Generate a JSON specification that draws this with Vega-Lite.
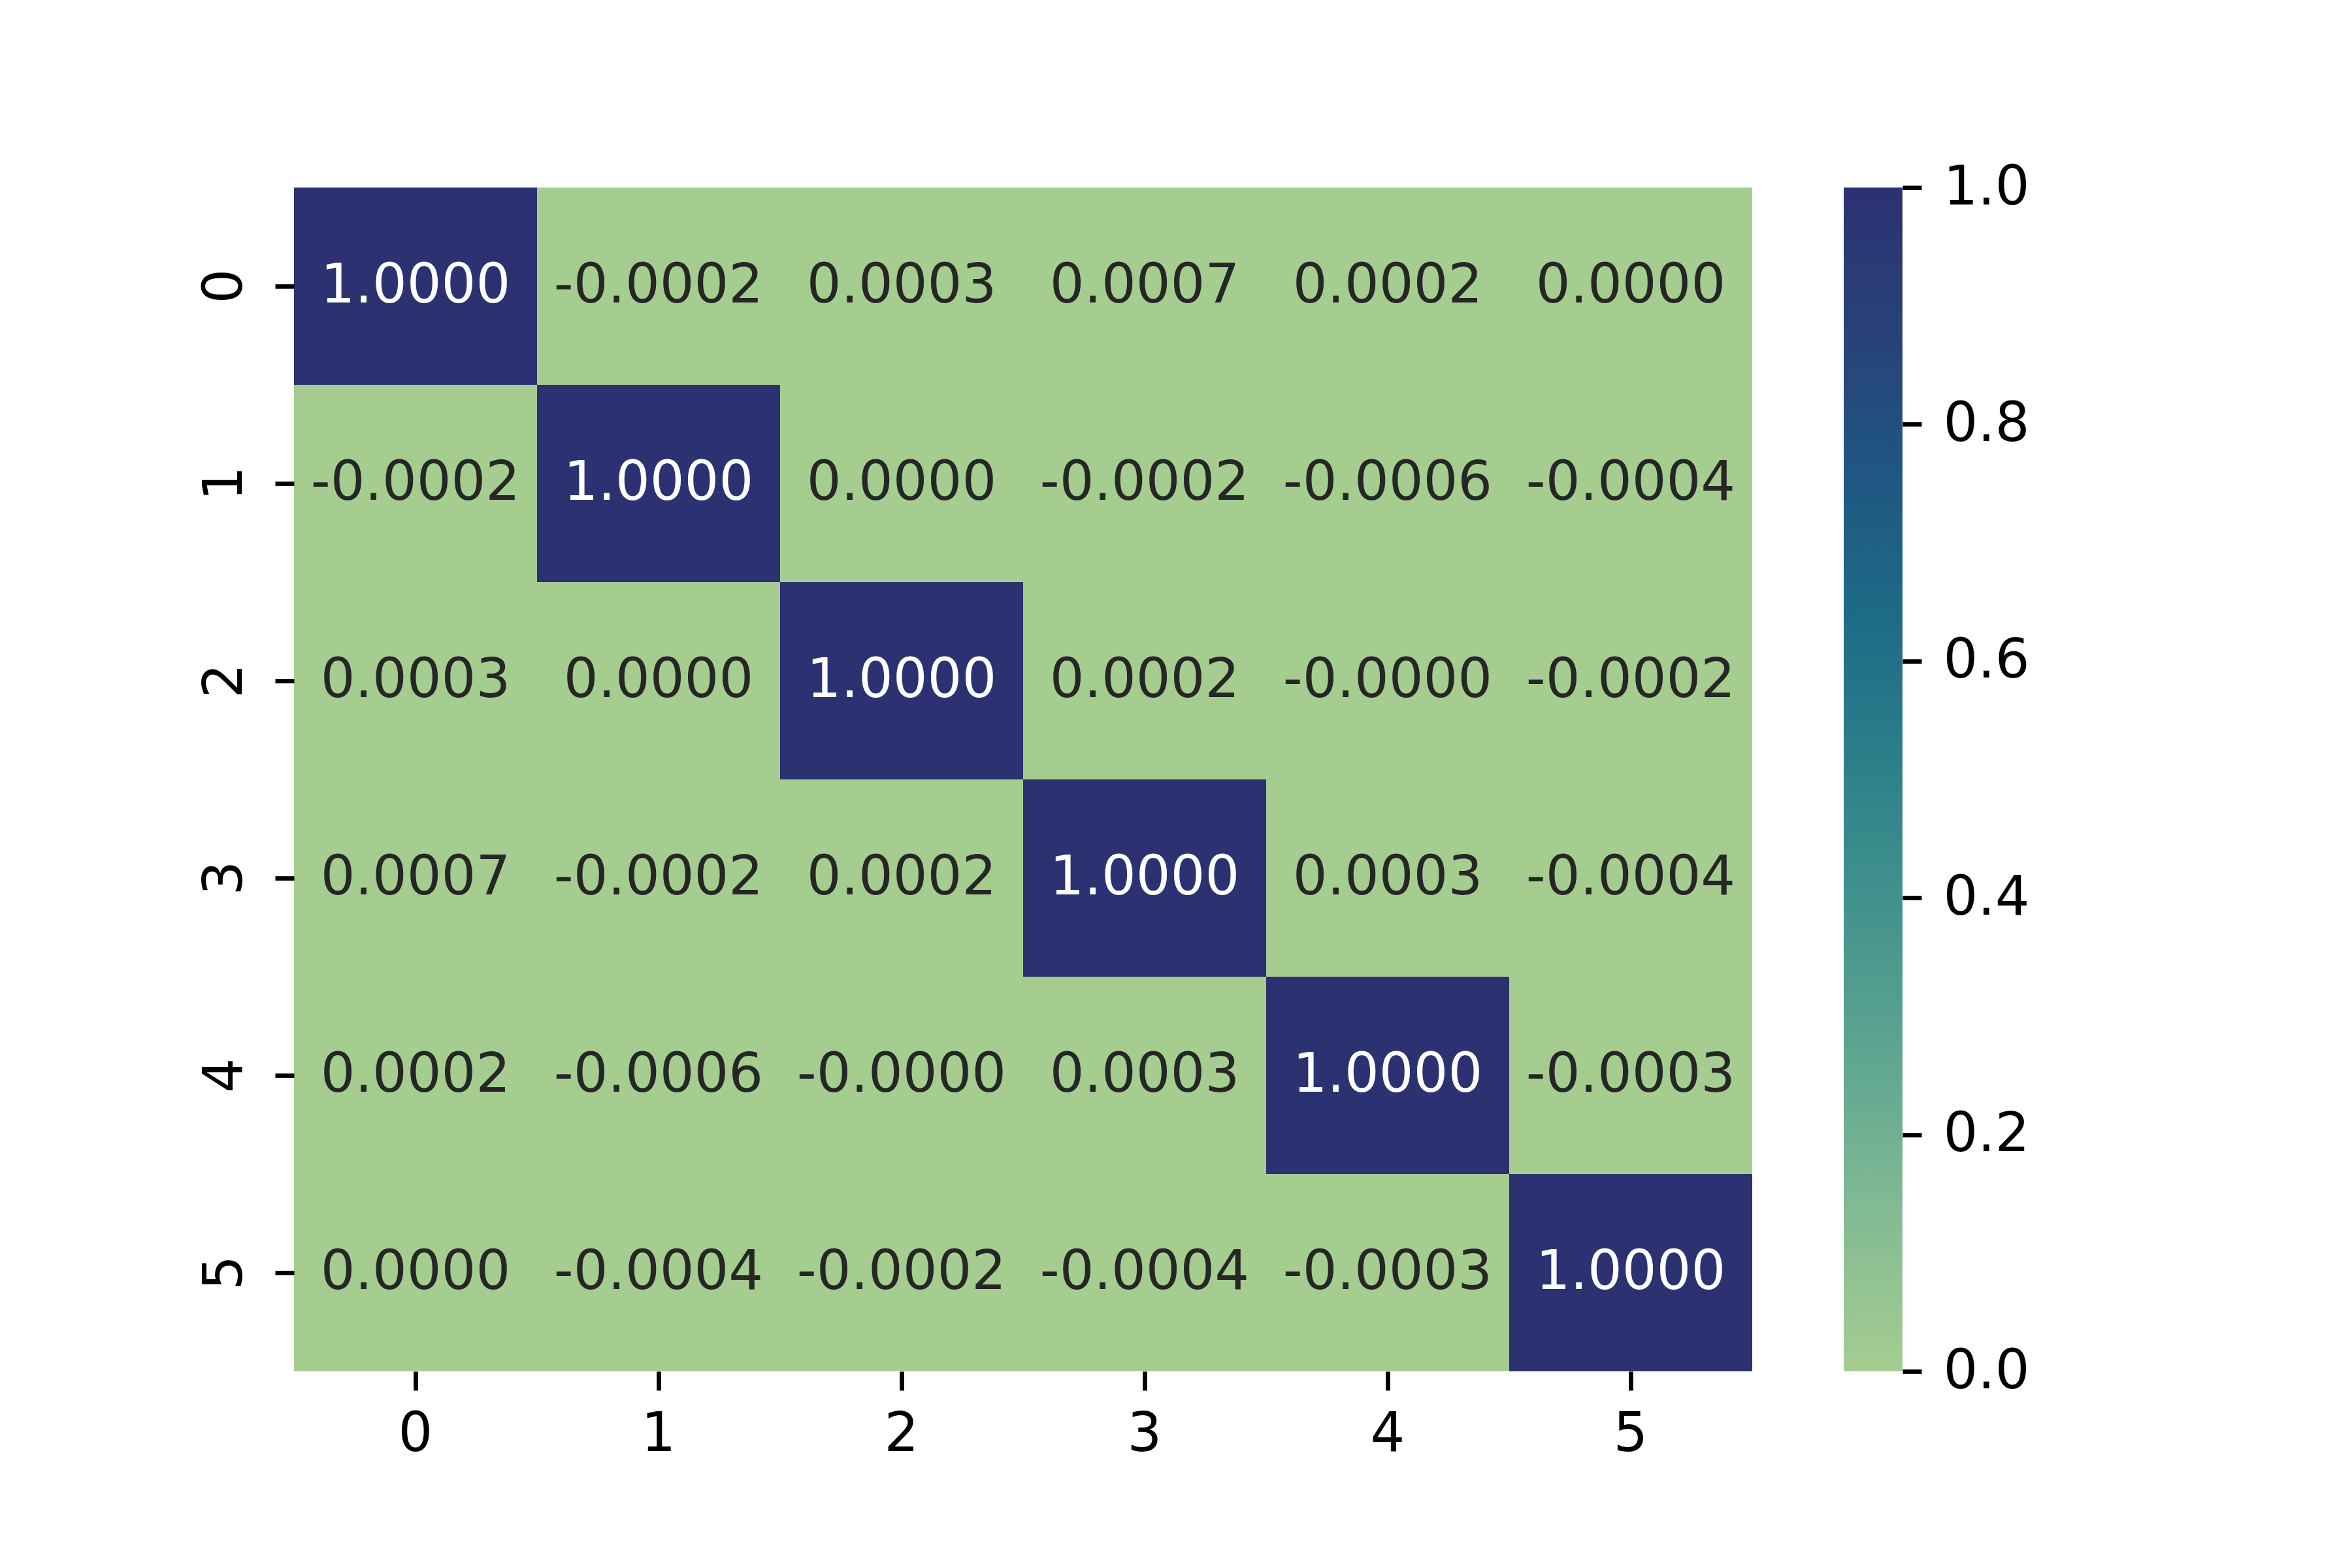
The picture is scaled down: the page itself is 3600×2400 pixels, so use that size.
{
  "$schema": "https://vega.github.io/schema/vega-lite/v6.json",
  "background": "white",
  "padding": {"left": 303, "top": 246, "right": 100, "bottom": 120},
  "spacing": 140,
  "config": {
    "view": {"stroke": null},
    "font": "DejaVu Sans",
    "axis": {
      "labelFont": "DejaVu Sans",
      "labelFontSize": 83,
      "labelColor": "#000000",
      "tickColor": "#000000",
      "tickSize": 29,
      "tickWidth": 6.7,
      "domain": false,
      "grid": false,
      "title": null
    }
  },
  "datasets": {
    "cells": [
      {"row": 0, "col": 0, "v": 1.0, "t": "1.0000"},
      {"row": 0, "col": 1, "v": -0.0002, "t": "-0.0002"},
      {"row": 0, "col": 2, "v": 0.0003, "t": "0.0003"},
      {"row": 0, "col": 3, "v": 0.0007, "t": "0.0007"},
      {"row": 0, "col": 4, "v": 0.0002, "t": "0.0002"},
      {"row": 0, "col": 5, "v": 0.0, "t": "0.0000"},
      {"row": 1, "col": 0, "v": -0.0002, "t": "-0.0002"},
      {"row": 1, "col": 1, "v": 1.0, "t": "1.0000"},
      {"row": 1, "col": 2, "v": 0.0, "t": "0.0000"},
      {"row": 1, "col": 3, "v": -0.0002, "t": "-0.0002"},
      {"row": 1, "col": 4, "v": -0.0006, "t": "-0.0006"},
      {"row": 1, "col": 5, "v": -0.0004, "t": "-0.0004"},
      {"row": 2, "col": 0, "v": 0.0003, "t": "0.0003"},
      {"row": 2, "col": 1, "v": 0.0, "t": "0.0000"},
      {"row": 2, "col": 2, "v": 1.0, "t": "1.0000"},
      {"row": 2, "col": 3, "v": 0.0002, "t": "0.0002"},
      {"row": 2, "col": 4, "v": -0.00001, "t": "-0.0000"},
      {"row": 2, "col": 5, "v": -0.0002, "t": "-0.0002"},
      {"row": 3, "col": 0, "v": 0.0007, "t": "0.0007"},
      {"row": 3, "col": 1, "v": -0.0002, "t": "-0.0002"},
      {"row": 3, "col": 2, "v": 0.0002, "t": "0.0002"},
      {"row": 3, "col": 3, "v": 1.0, "t": "1.0000"},
      {"row": 3, "col": 4, "v": 0.0003, "t": "0.0003"},
      {"row": 3, "col": 5, "v": -0.0004, "t": "-0.0004"},
      {"row": 4, "col": 0, "v": 0.0002, "t": "0.0002"},
      {"row": 4, "col": 1, "v": -0.0006, "t": "-0.0006"},
      {"row": 4, "col": 2, "v": -0.00001, "t": "-0.0000"},
      {"row": 4, "col": 3, "v": 0.0003, "t": "0.0003"},
      {"row": 4, "col": 4, "v": 1.0, "t": "1.0000"},
      {"row": 4, "col": 5, "v": -0.0003, "t": "-0.0003"},
      {"row": 5, "col": 0, "v": 0.0, "t": "0.0000"},
      {"row": 5, "col": 1, "v": -0.0004, "t": "-0.0004"},
      {"row": 5, "col": 2, "v": -0.0002, "t": "-0.0002"},
      {"row": 5, "col": 3, "v": -0.0004, "t": "-0.0004"},
      {"row": 5, "col": 4, "v": -0.0003, "t": "-0.0003"},
      {"row": 5, "col": 5, "v": 1.0, "t": "1.0000"}
    ],
    "bar": [{"lo": 0, "hi": 1}]
  },
  "hconcat": [
    {
      "width": 2232,
      "height": 1812,
      "data": {"name": "cells"},
      "encoding": {
        "x": {
          "field": "col", "type": "ordinal",
          "scale": {"paddingInner": 0, "paddingOuter": 0},
          "axis": {"labelAngle": 0, "labelPadding": 26, "labelBaseline": "top"}
        },
        "y": {
          "field": "row", "type": "ordinal",
          "scale": {"paddingInner": 0, "paddingOuter": 0},
          "axis": {"labelAngle": 270, "labelPadding": 35, "labelAlign": "center", "labelBaseline": "bottom"}
        }
      },
      "layer": [
        {
          "mark": {"type": "rect"},
          "encoding": {
            "color": {
              "field": "v", "type": "quantitative",
              "scale": {
                "domain": [0, 1],
                "clamp": true,
                "range": ["#a5cd90", "#85bc94", "#63a891", "#46958d", "#2e828a", "#1e6d87", "#1f5882", "#284278", "#2c3172"],
                "interpolate": "rgb"
              },
              "legend": null
            }
          }
        },
        {
          "mark": {"type": "text", "font": "DejaVu Sans", "fontSize": 83, "baseline": "middle", "align": "center"},
          "encoding": {
            "text": {"field": "t", "type": "nominal"},
            "color": {
              "condition": {"test": "datum.v > 0.5", "value": "#ffffff"},
              "value": "#262626"
            }
          }
        }
      ]
    },
    {
      "width": 90,
      "height": 1812,
      "data": {"name": "bar"},
      "mark": {
        "type": "rect",
        "color": {
          "gradient": "linear",
          "x1": 0, "y1": 1, "x2": 0, "y2": 0,
          "stops": [
            {"offset": 0, "color": "#a5cd90"},
            {"offset": 0.125, "color": "#85bc94"},
            {"offset": 0.25, "color": "#63a891"},
            {"offset": 0.375, "color": "#46958d"},
            {"offset": 0.5, "color": "#2e828a"},
            {"offset": 0.625, "color": "#1e6d87"},
            {"offset": 0.75, "color": "#1f5882"},
            {"offset": 0.875, "color": "#284278"},
            {"offset": 1, "color": "#2c3172"}
          ]
        }
      },
      "encoding": {
        "y": {
          "field": "lo", "type": "quantitative",
          "scale": {"domain": [0, 1], "nice": false, "zero": false},
          "axis": {"orient": "right", "values": [0, 0.2, 0.4, 0.6, 0.8, 1.0], "format": ".1f", "labelPadding": 33}
        },
        "y2": {"field": "hi"}
      }
    }
  ]
}
